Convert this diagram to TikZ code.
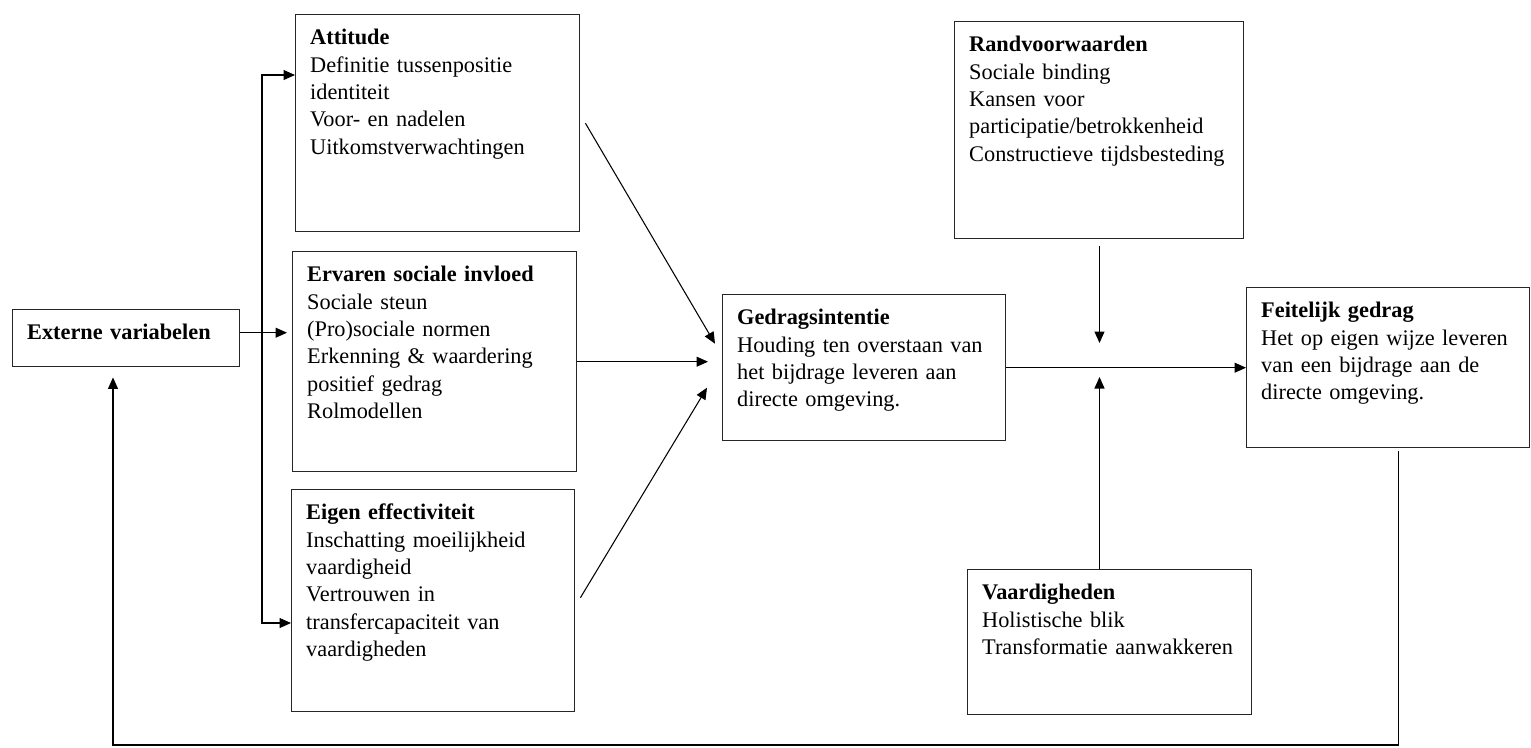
\documentclass[tikz,border=0pt]{standalone}
\usepackage{fontspec}
\setmainfont{Liberation Serif}
\usepackage{tikz}
\usetikzlibrary{positioning,calc,arrows.meta}

\begin{document}
\begin{tikzpicture}
					\tikzset{
						blok/.style 2 args={draw=black!85, line width=0.8pt, anchor=north west, align=left,
							inner xsep=2.9mm, inner ysep=1.8mm, text width=#1, text height=4.2mm, text depth=#2,
							font=\fontsize{12.7}{15.6}\selectfont},
						pijl/.style={line width=0.6pt, -{Triangle[length=2.3mm,width=2mm]}},
						lijn/.style={line width=0.6pt}
					}
					\useasboundingbox (0,0) rectangle (30.62,-14.94);
					
					\node[blok={3.96cm}{0.36cm}] (ext) at (0.24,-6.18) {\textbf{Externe variabelen}};
					\node[blok={5.10cm}{3.56cm}] (att) at (5.90,-0.28) {\textbf{Attitude}\\ Definitie tussenpositie\\ identiteit\\ Voor- en nadelen\\ Uitkomstverwachtingen};
					\node[blok={5.10cm}{3.62cm}] (erv) at (5.84,-5.02) {\textbf{Ervaren sociale invloed}\\ Sociale steun\\ (Pro)sociale normen\\ Erkenning \& waardering\\ positief gedrag\\ Rolmodellen};
					\node[blok={5.08cm}{3.66cm}] (eig) at (5.82,-9.78) {\textbf{Eigen effectiviteit}\\ Inschatting moeilijkheid\\ vaardigheid\\ Vertrouwen in\\ transfercapaciteit van\\ vaardigheden};
					\node[blok={5.08cm}{2.14cm}] (ged) at (14.44,-5.88) {\textbf{Gedragsintentie}\\ Houding ten overstaan van\\ het bijdrage leveren aan\\ directe omgeving.};
					\node[blok={5.20cm}{3.56cm}] (rand) at (19.08,-0.42) {\textbf{Randvoorwaarden}\\ Sociale binding\\ Kansen voor\\ participatie/betrokkenheid\\ Constructieve tijdsbesteding};
					\node[blok={5.08cm}{2.42cm}] (feit) at (24.92,-5.74) {\textbf{Feitelijk gedrag}\\ Het op eigen wijze leveren\\ van een bijdrage aan de\\ directe omgeving.};
					\node[blok={5.10cm}{2.12cm}] (vaard) at (19.34,-11.38) {\textbf{Vaardigheden}\\ Holistische blik\\ Transformatie aanwakkeren};
					
					\coordinate (bt) at (5.24,-1.5);
					\coordinate (bb) at (5.24,-12.46);
					\coordinate (kruis) at (21.99,-7.3);
					\coordinate (terug) at (2.26,-14.9);
					
					\draw[pijl, shorten >=1mm] ([yshift=1.1mm]ext.east) -- ([yshift=1.1mm]ext.east -| erv.west);
					\draw[lijn, {Triangle[length=2.3mm,width=2mm]}-{Triangle[length=2.3mm,width=2mm]}] (att.west |- bt) -- (bt) -- (bb) -- (eig.west |- bb);
					
					\draw[pijl] ([xshift=1mm]att.east) -- ([xshift=-1.4mm,yshift=4.8mm]ged.west);
					\draw[pijl, shorten >=2.8mm] (erv.east) -- (erv.east -| ged.west);
					\draw[pijl] ([xshift=1mm,yshift=0.6mm]eig.east) -- ([xshift=-3mm,yshift=-4mm]ged.west);
					
					\draw[pijl] (ged.east) -- (feit.west);
					\draw[pijl] ([yshift=-1.4mm]rand.south -| kruis) -- ([yshift=4.4mm]kruis);
					\draw[pijl] (vaard.north -| kruis) -- ([yshift=-2.4mm]kruis);
					
					\draw[pijl] ([xshift=2mm,yshift=-0.6mm]feit.south) |- (terug) -- ([yshift=-2mm]ext.south -| terug);
				\end{tikzpicture}
\end{document}
